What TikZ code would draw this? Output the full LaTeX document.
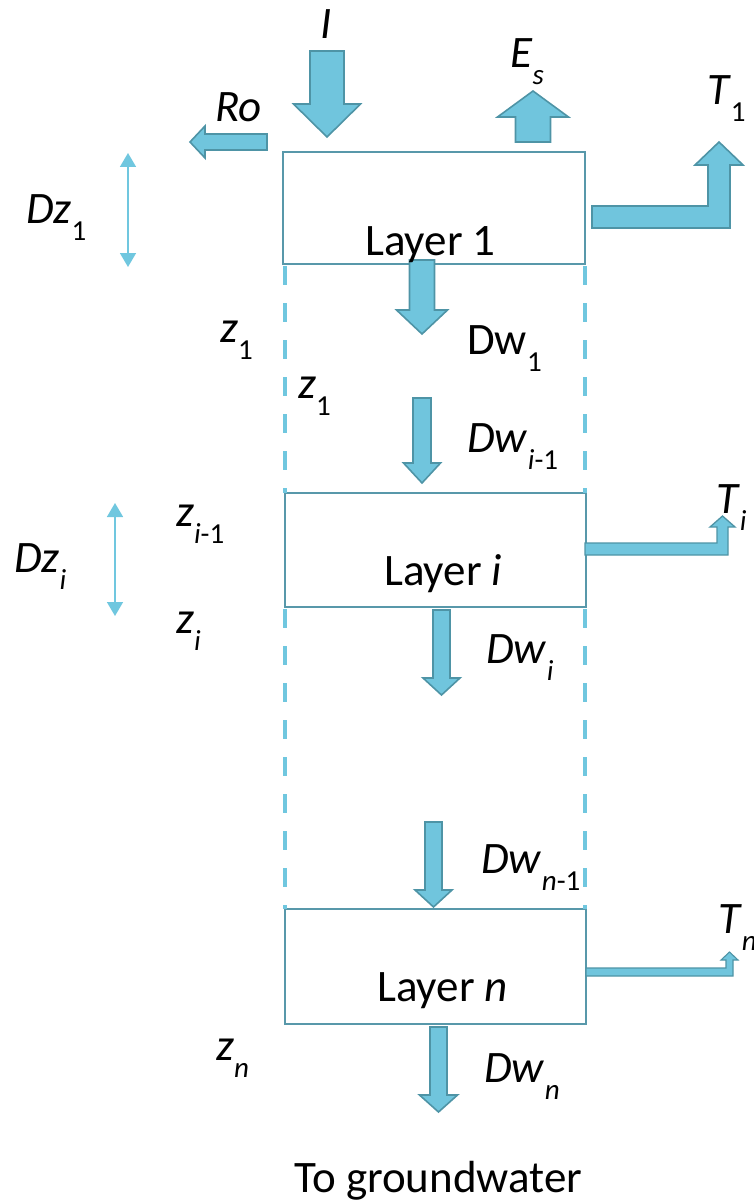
\documentclass[tikz,border=0pt]{standalone}
\usepackage{fontspec}
\setmainfont{Carlito}
\usetikzlibrary{arrows.meta}
\definecolor{arrfill}{RGB}{112,197,221}
\definecolor{arredge}{RGB}{78,148,166}
\definecolor{boxedge}{RGB}{88,152,170}
\definecolor{dashc}{RGB}{112,199,223}
\newcommand{\sbx}[1]{\raisebox{-17pt}{\fontsize{29}{29}\selectfont #1}}
\newcommand{\bdown}[6]{% cx, top, halfshaft, headbase, halfhead, tip
  \filldraw[blk] ({#1-#3},#2) -- ({#1+#3},#2) -- ({#1+#3},#4) -- ({#1+#5},#4) -- (#1,#6) -- ({#1-#5},#4) -- ({#1-#3},#4) -- cycle;}
\tikzset{
  blk/.style={fill=arrfill, draw=arredge, line width=1.6pt, line join=miter},
  layerbox/.style={draw=boxedge, line width=2pt, fill=none, inner sep=0pt},
  dashline/.style={draw=dashc, line width=4.5pt, dash pattern=on 19pt off 18pt},
  dimarrow/.style={draw=dashc, line width=1.6pt, {Triangle[width=16pt,length=14pt]}-{Triangle[width=16pt,length=14pt]}},
  lab/.style={anchor=base west, inner sep=0pt, font=\fontsize{45}{54}\selectfont}
}
\begin{document}
\begin{tikzpicture}[x=1pt,y=-1pt]
\useasboundingbox (0,0) rectangle (753,1201);
% boxes
\draw[layerbox] (283,152) rectangle (585,264);
\draw[layerbox] (285,493) rectangle (586,607);
\draw[layerbox] (285,909) rectangle (586,1024);
\coordinate (B1) at (434,208);
% dashed side lines
\coordinate (dl1) at (285,266); \coordinate (dl2) at (285,493);
\coordinate (dr1) at (585,266); \coordinate (dr2) at (585,493);
\coordinate (dl3) at (285,609); \coordinate (dl4) at (285,909);
\coordinate (dr3) at (585,609); \coordinate (dr4) at (585,909);
\draw[dashline] (dl1) -- (dl2);
\draw[dashline] (dr1) -- (dr2);
\draw[dashline] (dl3) -- (dl4);
\draw[dashline] (dr3) -- (dr4);
% block arrows
\bdown{327}{51}{17}{104}{33.5}{137}
\filldraw[blk] (515.5,142) -- (550.5,142) -- (550.5,117) -- (568.5,117) -- (533,91) -- (497.5,117) -- (515.5,117) -- cycle;
\filldraw[blk] (267,134) -- (205,134) -- (205,126) -- (190,142) -- (205,158) -- (205,150) -- (267,150) -- cycle;
\filldraw[blk] (592,206) -- (708,206) -- (708,165) -- (695,165) -- (719,142) -- (743,165) -- (730,165) -- (730,228) -- (592,228) -- cycle;
\filldraw[blk, line width=1.3pt] (585,543) -- (717,543) -- (717,527) -- (710,527) -- (722.5,516) -- (735,527) -- (728,527) -- (728,555) -- (585,555) -- cycle;
\filldraw[blk, line width=1.1pt] (586,968) -- (726,968) -- (726,960) -- (721,960) -- (729.5,952) -- (738,960) -- (733,960) -- (733,976) -- (586,976) -- cycle;
\bdown{422}{260}{12.5}{310}{25.5}{334}
\bdown{422}{398}{9}{463}{18.5}{483}
\bdown{441.5}{610}{8.5}{678}{18.5}{695}
\bdown{433.5}{822}{8.5}{890}{18.5}{907}
\bdown{438.5}{1027}{8.5}{1095}{19}{1112}
% dimension arrows
\coordinate (dz1a) at (128,153); \coordinate (dz1b) at (128,267);
\coordinate (dzia) at (115,503); \coordinate (dzib) at (115,616);
\draw[dimarrow] (dz1a) -- (dz1b);
\draw[dimarrow] (dzia) -- (dzib);
% labels
\node[lab] (lI) at (320,39) {\textit{I}};
\node[lab] (lEs) at (510,68) {\textit{E}\sbx{\textit{s}}};
\node[lab] (lRo) at (215,122) {\textit{Ro}};
\node[lab] (lT1) at (707,105) {\textit{T}\sbx{1}};
\node[lab] (lDz1) at (26,223) {\textit{Dz}\sbx{1}};
\node[lab] (lL1) at (365,255) {Layer 1};
\node[lab] (lz1a) at (220,342) {\textit{z}\sbx{1}};
\node[lab] (lDw1) at (467,354) {Dw\sbx{1}};
\node[lab] (lz1b) at (298,398) {\textit{z}\sbx{1}};
\node[lab] (lDwim) at (467,452) {\textit{Dw}\sbx{\textit{i}-1}};
\node[lab] (lTi) at (716,513) {\textit{T}\sbx{\textit{i}}};
\node[lab] (lzim) at (176,526) {\textit{z}\sbx{\textit{i}-1}};
\node[lab] (lDzi) at (14,572) {\textit{Dz}\sbx{\textit{i}}};
\node[lab] (lLi) at (384,585) {Layer \textit{i}};
\node[lab] (lzi) at (176,633) {\textit{z}\sbx{\textit{i}}};
\node[lab] (lDwi) at (486,663) {\textit{Dw}\sbx{\textit{i}}};
\node[lab] (lDwnm) at (481,873) {\textit{Dw}\sbx{\textit{n}-1}};
\node[lab] (lTn) at (718,933) {\textit{T}\sbx{\textit{n}}};
\node[lab] (lLn) at (377,1001) {Layer \textit{n}};
\node[lab] (lzn) at (216,1060) {\textit{z}\sbx{\textit{n}}};
\node[lab] (lDwn) at (484,1082) {\textit{Dw}\sbx{\textit{n}}};
\node[lab] (lgw) at (294,1192) {To groundwater};
\end{tikzpicture}
\end{document}
